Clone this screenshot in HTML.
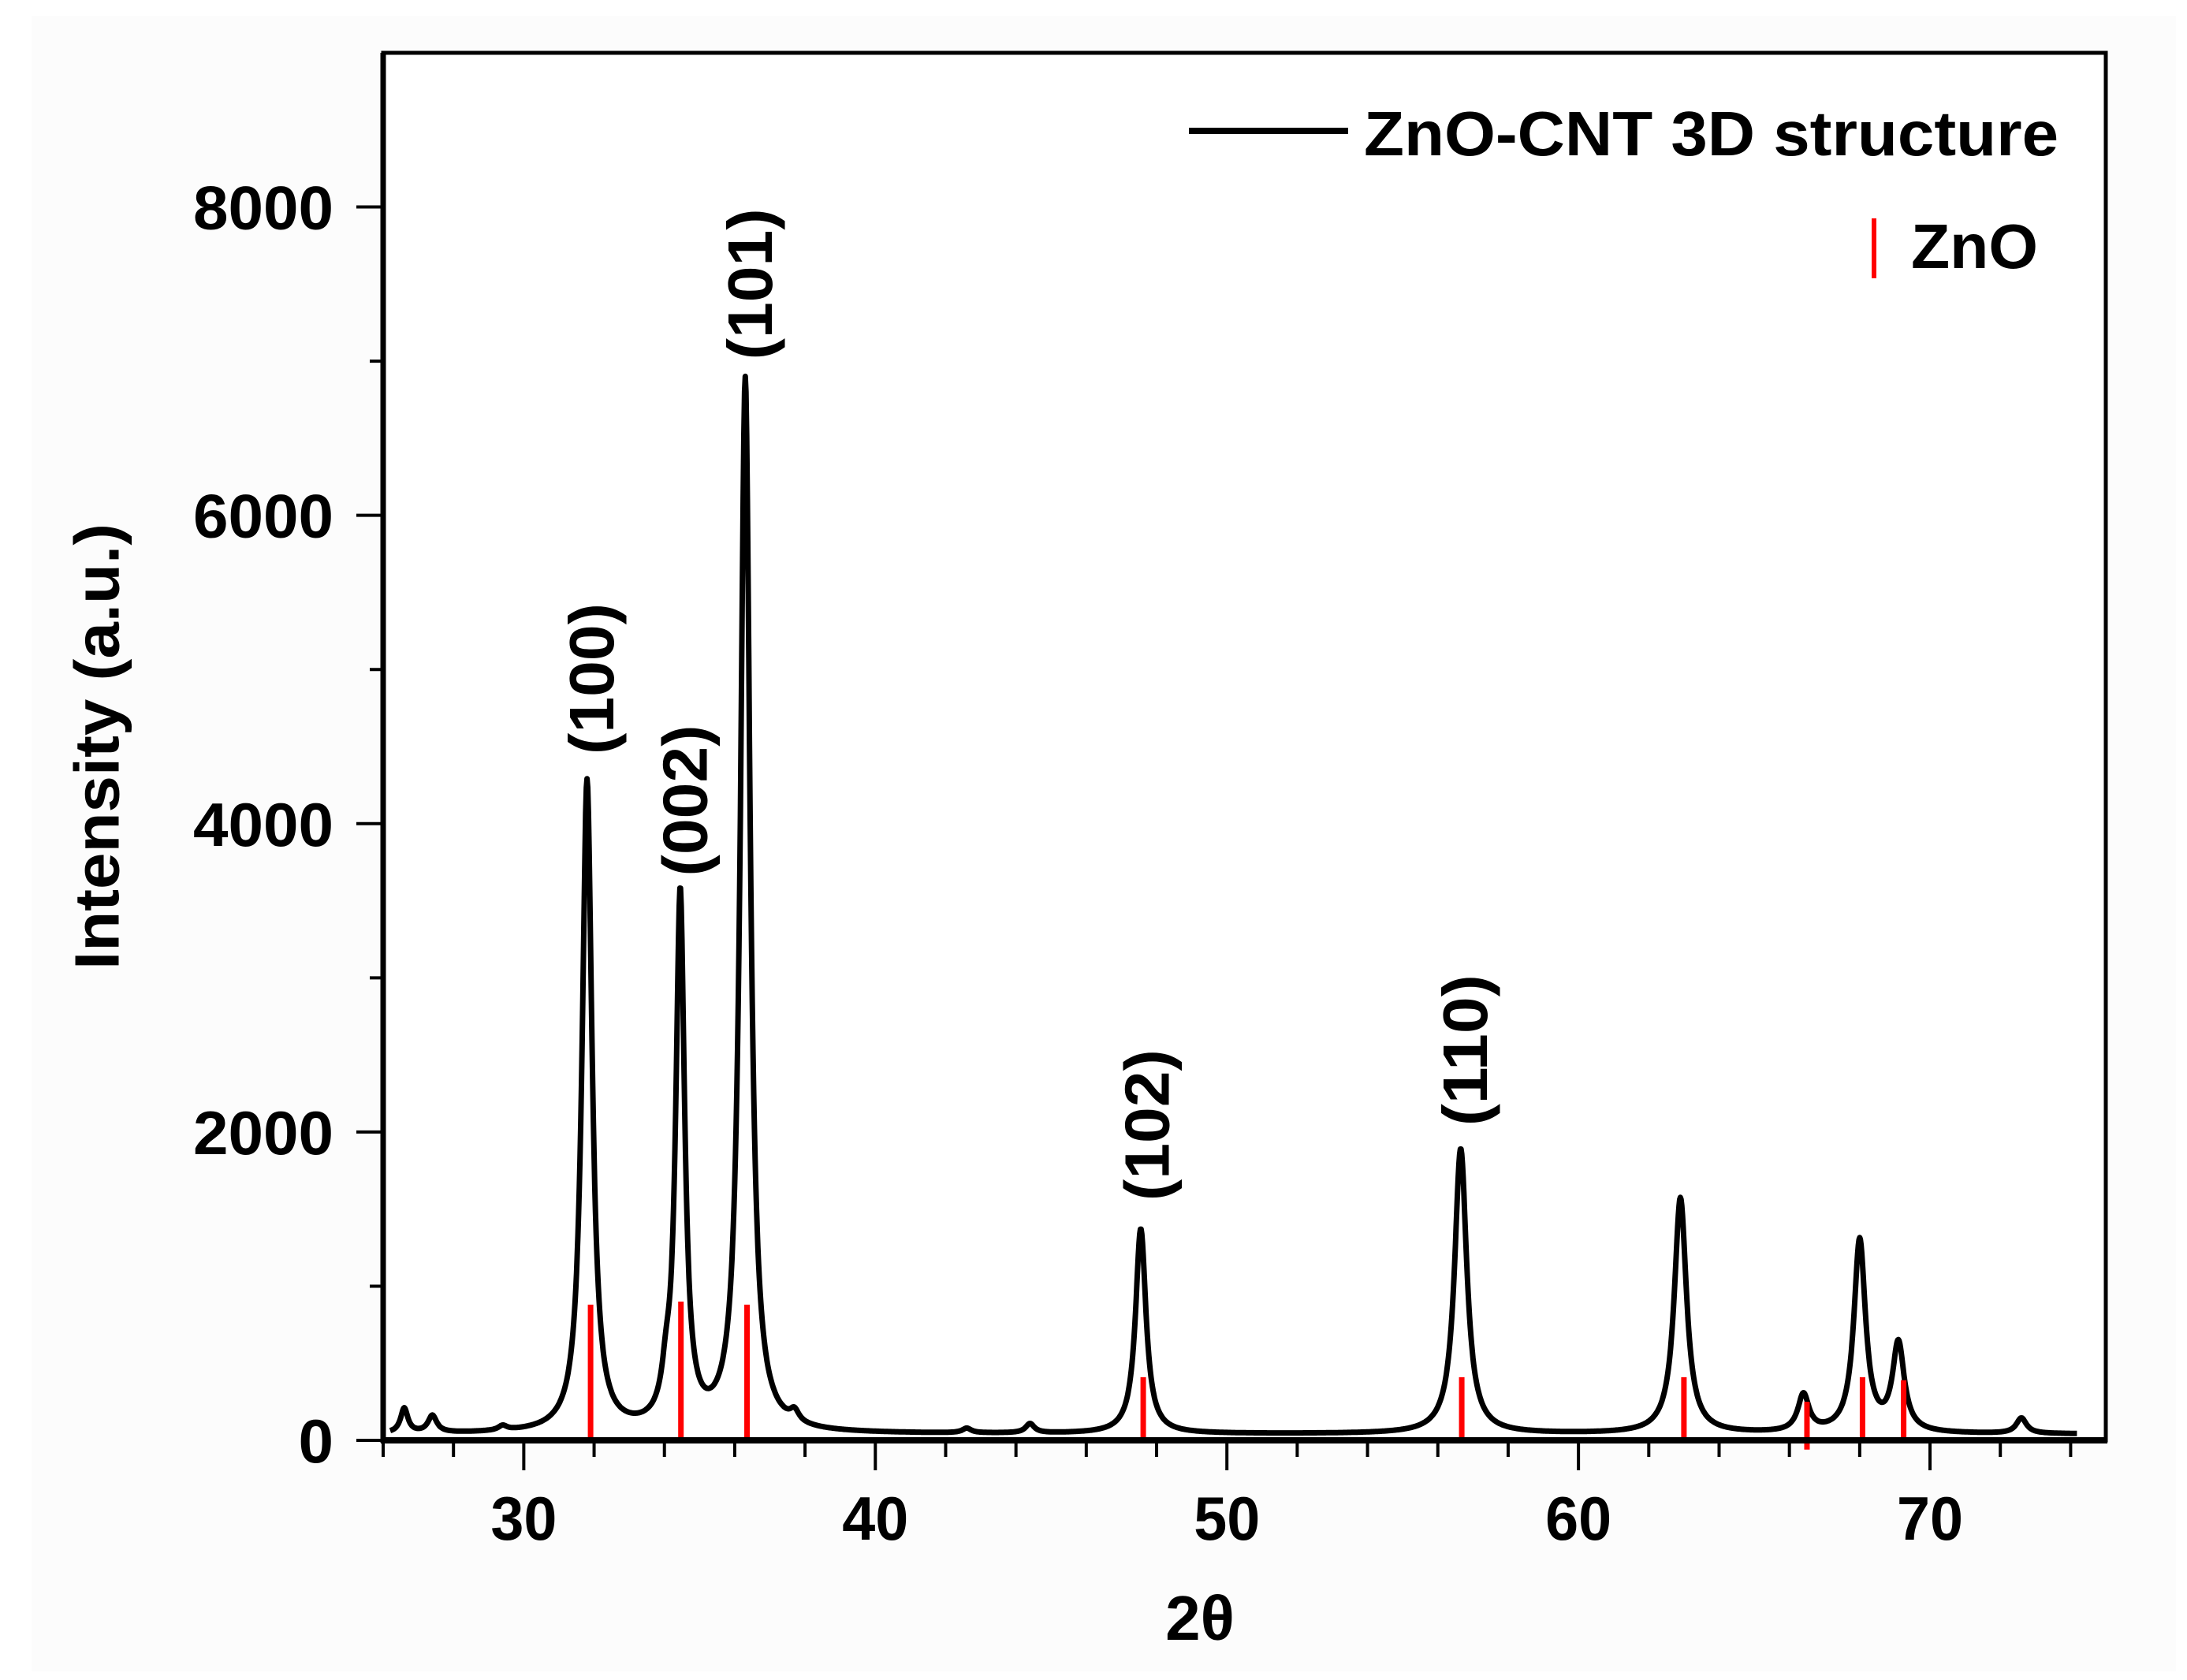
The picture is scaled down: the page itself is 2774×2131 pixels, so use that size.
<!DOCTYPE html>
<html><head><meta charset="utf-8"><style>
html,body{margin:0;padding:0;background:#fff;}
svg text{font-family:"Liberation Sans",Arial,sans-serif;font-weight:bold;fill:#000;}
</style></head><body>
<svg id="chart" width="2774" height="2126" viewBox="0 0 2774 2126" xmlns="http://www.w3.org/2000/svg">
<rect x="0" y="0" width="2774" height="2126" fill="#fff"/>
<rect x="40" y="20" width="2720" height="2100" fill="#fcfcfc"/>
<rect x="486" y="67" width="2185" height="1760" fill="#fff"/>
<g id="marks"></g>
<g id="axes"></g>
<text x="123" y="947" transform="rotate(-90 123 947)" text-anchor="middle" dominant-baseline="central" font-size="80" textLength="566" lengthAdjust="spacingAndGlyphs">Intensity (a.u.)</text>
<text x="1522" y="2080" text-anchor="middle" font-size="80">2θ</text>
<line x1="1508" y1="166" x2="1710" y2="166" stroke="#000" stroke-width="8"/>
<text x="1730" y="197" font-size="80" textLength="881" lengthAdjust="spacingAndGlyphs">ZnO-CNT 3D structure</text>
<line x1="2377" y1="277" x2="2377" y2="353" stroke="#ff0000" stroke-width="6"/>
<text x="2424" y="340" font-size="80" textLength="161" lengthAdjust="spacingAndGlyphs">ZnO</text>
</svg>
<script>
const peakCenters=[26.6,27.4,29.4,31.8,34.05,34.45,36.3,37.7,42.6,44.4,47.55,56.65,62.9,66.4,68.0,69.1,72.6];
const peakHeights=[160,110,30,4230,200,3460,6830,70,30,60,1330,1850,1530,240,1250,570,100];
const peakWidths=[0.25,0.3,0.3,0.34,0.3,0.3,0.33,0.3,0.3,0.3,0.36,0.42,0.42,0.38,0.4,0.4,0.35];
const baselineLevel=40;
const refPositions=[31.9,34.47,36.35,47.62,56.68,63.0,66.5,68.08,69.25];
const refHeights=[880,900,880,410,410,410,250,410,390];
const xTicks=[30,40,50,60,70];
const yTicks=[0,2000,4000,6000,8000];
const hklLabels=["(100)","(002)","(101)","(102)","(110)"];
const hklX=[31.8,34.45,36.3,47.6,56.65];
const hklY=[4940,4150,7500,2045,2530];

const X0=26,X1=75,Y0=0,Y1=9000;
const PL=486,PR=2671,PT=67,PB=1827;
function sx(v){return PL+(v-X0)/(X1-X0)*(PR-PL);}
function sy(v){return PB-(v-Y0)/(Y1-Y0)*(PB-PT);}
const NS="http://www.w3.org/2000/svg";
function mk(tag,attrs,parent){const e=document.createElementNS(NS,tag);for(const k in attrs)e.setAttribute(k,attrs[k]);parent.appendChild(e);return e;}
const marks=document.getElementById('marks'),axes=document.getElementById('axes');

let d="";
for(let x=X0+0.2;x<=74.2;x+=0.02){
  let y=baselineLevel;
  for(let i=0;i<peakCenters.length;i++){const g=peakWidths[i]/2;const t=(x-peakCenters[i])/g;y+=peakHeights[i]/(1+t*t);}
  d+=(d?"L":"M")+sx(x).toFixed(1)+","+sy(y).toFixed(1);
}
const line=mk('path',{d:d,fill:'none',stroke:'#000','stroke-width':7,'stroke-linejoin':'round'},marks);



for(let i=0;i<refPositions.length;i++){
  const r=mk('line',{x1:sx(refPositions[i]),x2:sx(refPositions[i]),y1:sy(i===6?-60:0),y2:sy(refHeights[i]),stroke:'#ff0000','stroke-width':7},marks);
  
  
}

for(let i=0;i<hklLabels.length;i++){
  const cx=sx(hklX[i])+6,cy=sy(hklY[i]);
  const t=mk('text',{x:cx,y:cy,transform:'rotate(-90 '+cx+' '+cy+')','text-anchor':'middle','dominant-baseline':'central','font-size':80,textLength:192,lengthAdjust:'spacingAndGlyphs'},marks);
  t.textContent=hklLabels[i];
  
  
}

const fr=mk('rect',{x:PL,y:PT,width:PR-PL,height:PB-PT,fill:'none',stroke:'#000','stroke-width':5},axes);


const la=mk('line',{x1:PL,y1:PT,x2:PL,y2:PB+3,stroke:'#000','stroke-width':7},axes);


const ba=mk('line',{x1:PL-3,y1:PB,x2:PR+2,y2:PB,stroke:'#000','stroke-width':8},axes);



for(let v=26;v<=74;v+=2){
  const major=v%10===0;
  const tk=mk('line',{x1:sx(v),x2:sx(v),y1:PB,y2:PB+(major?38:21),stroke:'#000','stroke-width':4},axes);
  
  
}
xTicks.forEach(v=>{
  const t=mk('text',{x:sx(v),y:1953,'text-anchor':'middle','font-size':78,textLength:84,lengthAdjust:'spacingAndGlyphs'},axes);
  t.textContent=String(v);
  
  
});
for(let v=0;v<=8000;v+=1000){
  const major=v%2000===0;
  const tk=mk('line',{x1:PL,x2:PL-(major?34:17),y1:sy(v),y2:sy(v),stroke:'#000','stroke-width':4},axes);
  
  
}
yTicks.forEach(v=>{
  const s=String(v);
  const t=mk('text',{x:423,y:sy(v)+28,'text-anchor':'end','font-size':78,textLength:s.length*44.5,lengthAdjust:'spacingAndGlyphs'},axes);
  t.textContent=s;
  
  
});
</script>
</body></html>
